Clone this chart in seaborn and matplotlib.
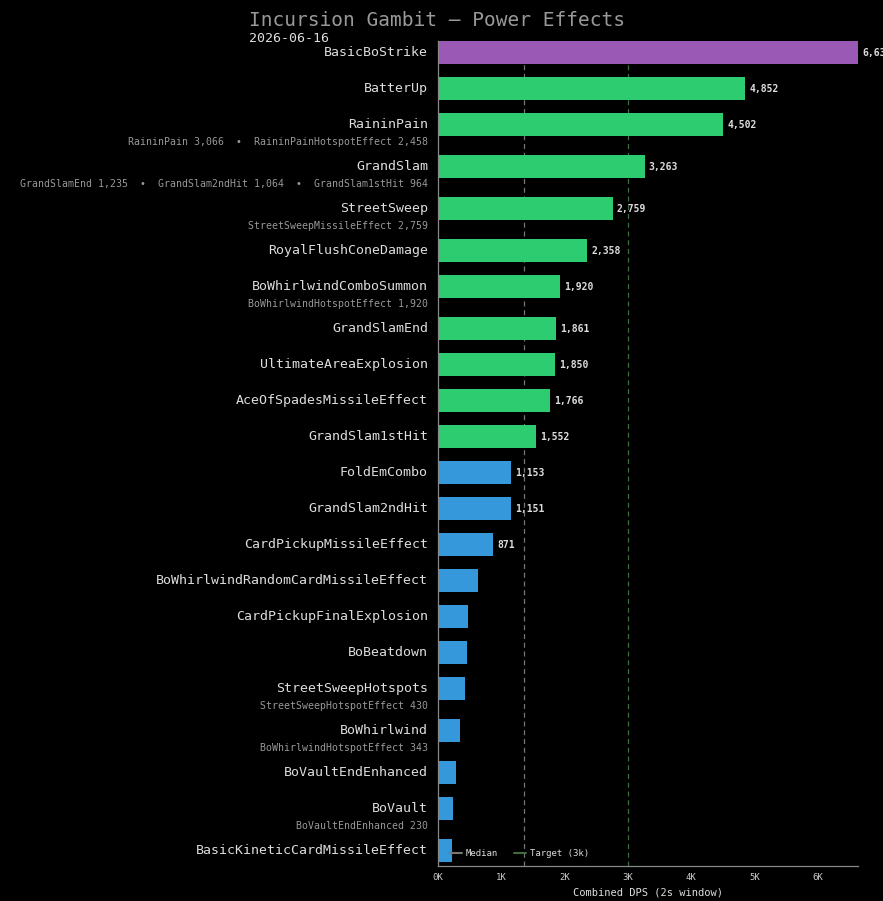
import numpy as np
import pandas as pd
import matplotlib
matplotlib.use('Agg')
import matplotlib.pyplot as plt
from matplotlib.lines import Line2D
import seaborn as sns

# Combined DPS per power effect (2s window)
names = ['BasicBoStrike', 'BatterUp', 'RaininPain', 'GrandSlam', 'StreetSweep',
         'RoyalFlushConeDamage', 'BoWhirlwindComboSummon', 'GrandSlamEnd',
         'UltimateAreaExplosion', 'AceOfSpadesMissileEffect', 'GrandSlam1stHit',
         'FoldEmCombo', 'GrandSlam2ndHit', 'CardPickupMissileEffect',
         'BoWhirlwindRandomCardMissileEffect', 'CardPickupFinalExplosion',
         'BoBeatdown', 'StreetSweepHotspots', 'BoWhirlwind', 'BoVaultEndEnhanced',
         'BoVault', 'BasicKineticCardMissileEffect']
dps = [6634, 4852, 4502, 3263, 2759, 2358, 1920, 1861, 1850, 1766, 1552,
       1153, 1151, 871, 632, 474, 453, 430, 343, 284, 230, 221]
# component breakdown shown under some rows
breakdown = {
    'RaininPain': 'RaininPain 3,066  \u2022  RaininPainHotspotEffect 2,458',
    'GrandSlam': 'GrandSlamEnd 1,235  \u2022  GrandSlam2ndHit 1,064  \u2022  GrandSlam1stHit 964',
    'StreetSweep': 'StreetSweepMissileEffect 2,759',
    'BoWhirlwindComboSummon': 'BoWhirlwindHotspotEffect 1,920',
    'StreetSweepHotspots': 'StreetSweepHotspotEffect 430',
    'BoWhirlwind': 'BoWhirlwindHotspotEffect 343',
    'BoVault': 'BoVaultEndEnhanced 230',
}
target = 3000
title = 'Incursion Gambit \u2014 Power Effects'
date = '2026-06-16'

BG = '#000000'
colors = {'top': '#9b59b6', 'good': '#2ecc71', 'low': '#3498db'}

sns.set_style('dark')
plt.rcParams['font.family'] = ['DejaVu Sans Mono', 'DejaVu Sans']

# rows with a breakdown line get a bit of extra room below
pos = []
y = 0.0
for n in names:
    pos.append(y)
    y += 1 + (1 / 6 if n in breakdown else 0)

def tier(v):
    if v >= 2 * target:
        return 'top'
    if v >= target / 2:
        return 'good'
    return 'low'

df = pd.DataFrame({'name': names, 'dps': dps, 'pos': pos})
df['tier'] = df['dps'].apply(tier)
median = float(np.median(dps))

fig = plt.figure(figsize=(8.83, 9.01), dpi=100, facecolor=BG)
ax = fig.add_axes([438 / 883, 1 - 866 / 901, 420 / 883, (866 - 41) / 901])
ax.set_facecolor(BG)

ax.axvline(median, color='#777777', ls=(0, (4, 3)), lw=0.9, zorder=0)
ax.axvline(target, color='#3f6b3f', ls=(0, (4, 3)), lw=0.9, zorder=0)

sns.barplot(data=df, x='dps', y='pos', hue='tier', palette=colors,
            orient='h', native_scale=True, width=0.64, dodge=False,
            saturation=1, edgecolor='none', linewidth=0,
            legend=False, ax=ax, zorder=2)

ax.set_xlim(0, max(dps))
ax.set_ylim(pos[-1] + 0.42, -0.33)

ylab = ax.get_yaxis_transform()
for _, r in df.iterrows():
    ax.text(-0.024, r['pos'], r['name'], transform=ylab, ha='right',
            va='center', fontsize=9.5, color='#dddddd')
    if r['name'] in breakdown:
        ax.text(-0.024, r['pos'] + 0.47, breakdown[r['name']], transform=ylab,
                ha='right', va='center', fontsize=7.1, color='#999999')
    if r['dps'] >= 0.1 * max(dps):
        ax.annotate(f"{r['dps']:,}", (r['dps'], r['pos']), xytext=(3, 0),
                    textcoords='offset points', ha='left', va='center',
                    fontsize=7, fontweight='bold', color='#dddddd',
                    annotation_clip=False)

ax.set_yticks([])
ax.set_ylabel('')
ax.set_xticks(range(0, 7000, 1000))
ax.set_xticklabels([f'{i}K' for i in range(7)])
ax.tick_params(axis='x', colors='#888888', labelcolor='#cccccc',
               labelsize=6.5, length=3, width=0.8, pad=2)
ax.set_xlabel('Combined DPS (2s window)', fontsize=7.5, color='#dddddd',
              labelpad=4)
for s in ['top', 'right']:
    ax.spines[s].set_visible(False)
for s in ['left', 'bottom']:
    ax.spines[s].set_color('#888888')
    ax.spines[s].set_linewidth(0.9)
ax.grid(False)

handles = [Line2D([], [], color='#777777', lw=1.5),
           Line2D([], [], color='#3f6b3f', lw=1.5)]
leg = ax.legend(handles, ['Median', 'Target (3k)'], loc='lower left',
                bbox_to_anchor=(0.01, 0.0), ncol=2, frameon=False,
                fontsize=6.5, handlelength=1.3, handletextpad=0.4,
                columnspacing=1.8)
for t in leg.get_texts():
    t.set_color('#dddddd')

fig.text(249 / 883, 1 - 20 / 901, title, ha='left', va='center',
         fontsize=14, color='#999999')
fig.text(249 / 883, 1 - 38 / 901, date, ha='left', va='center',
         fontsize=9.5, color='#dddddd')

fig.savefig('out.png', dpi=100, facecolor=BG)
